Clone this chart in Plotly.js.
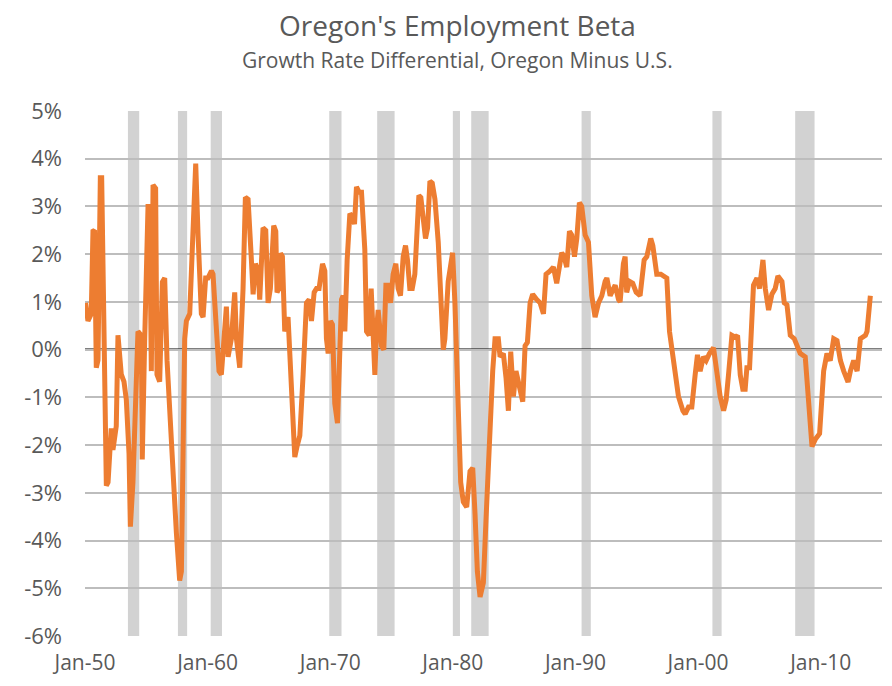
<!DOCTYPE html>
<html>
<head>
<meta charset="utf-8">
<script src="https://cdn.plot.ly/plotly-3.0.1.min.js"></script>
<style>html,body{margin:0;padding:0;background:#fff;}#chart{width:892px;height:686px;}</style>
</head>
<body>
<div id="chart"></div>
<script>
// Decimal years of each reading
const years = [
1950.05,1950.24,1950.51,1950.65,1950.78,1950.92,1951.06,1951.25,1951.36,1951.74,1951.88,
1952.14,1952.28,1952.42,1952.55,1952.69,1952.96,1953.18,1953.37,1953.59,1953.70,1953.91,
1954.32,1954.59,1954.67,1954.87,1955.14,1955.27,1955.41,1955.55,1955.76,1955.87,1956.09,
1956.31,1956.50,1956.69,1956.91,1957.19,1957.45,1957.72,1957.86,1958.13,1958.27,1958.54,
1958.81,1959.03,1959.22,1959.49,1959.63,1959.84,1960.03,1960.31,1960.44,1960.72,1960.93,
1961.12,1961.26,1961.53,1961.67,1961.94,1962.21,1962.35,1962.62,1962.89,1963.08,1963.30,
1963.57,1963.71,1963.90,1964.12,1964.25,1964.52,1964.74,1964.93,1965.12,1965.39,1965.56,
1965.66,1965.83,1965.94,1966.10,1966.29,1966.56,1967.11,1967.30,1967.52,1967.79,1968.06,
1968.28,1968.47,1968.69,1968.88,1969.09,1969.37,1969.56,1969.69,1969.83,1970.02,1970.18,
1970.37,1970.59,1970.78,1970.92,1971.05,1971.19,1971.38,1971.60,1971.81,1971.98,1972.14,
1972.36,1972.55,1972.82,1972.96,1973.18,1973.34,1973.50,1973.64,1973.77,1973.91,1974.18,
1974.37,1974.54,1974.73,1974.92,1975.13,1975.35,1975.54,1975.73,1975.95,1976.14,1976.30,
1976.49,1976.69,1976.90,1977.04,1977.23,1977.39,1977.58,1977.77,1977.94,1978.13,1978.32,
1978.54,1978.81,1979.08,1979.22,1979.35,1979.62,1979.98,1980.17,1980.45,1980.64,1980.85,
1981.13,1981.40,1981.62,1981.81,1982.00,1982.22,1982.49,1982.71,1982.98,1983.25,1983.44,
1983.71,1983.85,1984.12,1984.34,1984.53,1984.72,1984.94,1985.15,1985.43,1985.70,1985.89,
1986.08,1986.30,1986.51,1986.84,1987.11,1987.39,1987.60,1987.93,1988.20,1988.47,1988.69,
1988.88,1989.07,1989.29,1989.51,1989.70,1989.92,1990.11,1990.32,1990.51,1990.79,1991.06,
1991.33,1991.60,1991.88,1992.15,1992.42,1992.56,1992.83,1993.05,1993.24,1993.51,1993.64,
1993.91,1994.05,1994.18,1994.40,1994.67,1994.95,1995.27,1995.60,1995.82,1996.14,1996.31,
1996.63,1996.96,1997.45,1997.67,1997.99,1998.40,1998.76,1998.95,1999.22,1999.49,1999.76,
1999.95,2000.17,2000.44,2000.66,2000.93,2001.26,2001.53,2001.80,2002.08,2002.29,2002.48,
2002.76,2003.03,2003.22,2003.44,2003.65,2003.84,2003.98,2004.20,2004.39,2004.52,2004.80,
2005.01,2005.29,2005.48,2005.75,2006.02,2006.29,2006.51,2006.84,2007.03,2007.25,2007.52,
2007.84,2008.06,2008.33,2008.74,2009.01,2009.29,2009.56,2009.91,2010.24,2010.51,2010.78,
2011.06,2011.33,2011.61,2011.88,2012.23,2012.42,2012.69,2012.97,2013.24,2013.65,2013.78,
2014.05
];
// Growth rate differential, Oregon minus U.S. (percent)
const differential = [
0.98,0.60,0.75,2.48,2.50,-0.38,-0.22,3.60,3.60,-2.85,-2.78,
-1.65,-2.10,-1.72,-1.60,0.30,-0.52,-0.67,-1.05,-2.18,-3.71,-2.78,
0.38,0.30,-2.30,0.23,3.00,3.00,-0.45,3.45,3.38,-0.52,-0.67,
1.42,1.50,-0.22,-1.28,-2.78,-3.83,-4.84,-4.65,0.23,0.60,0.75,
2.85,3.90,2.40,0.75,0.68,1.50,1.50,1.65,1.58,0.23,-0.45,
-0.52,-0.08,0.90,-0.15,0.23,1.20,0.23,-0.38,1.28,3.19,3.15,
1.88,1.16,1.80,1.65,1.05,2.55,2.50,0.98,1.28,2.60,2.48,
1.20,1.28,2.02,1.95,0.38,0.68,-2.25,-2.02,-1.80,-0.52,0.98,
1.05,0.60,1.20,1.28,1.28,1.80,1.65,0.23,-0.08,0.60,0.53,
-1.13,-1.54,-0.38,1.05,1.13,0.38,1.88,2.85,2.78,2.63,3.41,
3.30,3.30,2.10,0.38,0.30,1.28,0.30,-0.53,0.38,0.83,0.08,
0.00,1.35,1.35,0.98,1.58,1.80,1.28,1.13,1.95,2.18,1.88,
1.28,1.28,1.58,2.48,3.23,3.19,2.63,2.33,2.55,3.53,3.49,
3.15,2.25,0.83,0.00,0.23,1.43,2.03,0.98,-1.28,-2.78,-3.19,
-3.30,-2.55,-2.48,-3.45,-4.65,-5.18,-4.88,-3.53,-1.73,-0.45,0.23,
0.23,-0.15,-0.08,-0.60,-1.28,-0.04,-0.98,-0.45,-0.83,-1.09,0.08,
0.15,0.98,1.16,1.05,0.98,0.75,1.58,1.65,1.73,1.39,1.73,
2.03,1.95,1.73,2.48,2.40,1.95,2.33,3.08,3.00,2.40,2.25,
1.13,0.68,0.98,1.13,1.43,1.50,1.13,1.28,1.35,1.05,1.00,
1.80,1.95,1.20,1.43,1.39,1.20,1.13,1.88,1.95,2.33,2.18,
1.58,1.58,1.50,0.38,-0.30,-0.98,-1.28,-1.35,-1.20,-1.20,-0.53,
-0.11,-0.45,-0.15,-0.23,-0.08,0.04,-0.53,-0.98,-1.28,-1.05,-0.53,
0.30,0.26,0.30,-0.53,-0.83,-0.83,-0.38,-0.38,0.98,1.35,1.50,
1.28,1.88,1.28,0.83,1.16,1.28,1.54,1.43,0.98,0.94,0.30,
0.23,0.08,-0.08,-0.15,-1.28,-2.03,-1.88,-1.76,-0.45,-0.08,-0.23,
0.23,0.19,-0.23,-0.45,-0.68,-0.45,-0.23,-0.45,0.23,0.30,0.38,
1.13
];
// NBER recessions (decimal years)
const recessionStart = [1953.50,1957.58,1960.25,1969.92,1973.83,1980.00,1981.50,1990.50,2001.17,2007.92];
const recessionEnd   = [1954.42,1958.33,1961.17,1970.92,1975.25,1980.58,1982.92,1991.25,2001.92,2009.50];

const xTickVals = [1950,1960,1970,1980,1990,2000,2010];
const xTickLabels = ['Jan-50','Jan-60','Jan-70','Jan-80','Jan-90','Jan-00','Jan-10'];
const yTickVals = [5,4,3,2,1,0,-1,-2,-3,-4,-5,-6];
const yTickLabels = ['5%','4%','3%','2%','1%','0%','-1%','-2%','-3%','-4%','-5%','-6%'];

const titleText = "Oregon's Employment Beta";
const subtitleText = "Growth Rate Differential, Oregon Minus U.S.";

const shapes = recessionStart.map((s, i) => ({
  type: 'rect', xref: 'x', yref: 'paper', x0: s, x1: recessionEnd[i], y0: 0, y1: 1,
  fillcolor: '#d2d2d2', line: {width: 0}, layer: 'below'
}));
shapes.push({type:'line', xref:'paper', yref:'y', x0:0, x1:1, y0:0, y1:0,
  line:{color:'#000000', width:2.5}, layer:'between'});

const trace = {
  x: years, y: differential, type: 'scatter', mode: 'lines',
  line: {color: '#ED7D31', width: 5}, hoverinfo: 'skip'
};

const font = {family: '"Open Sans", "Noto Sans", sans-serif', color: '#595959'};

const layout = {
  width: 892, height: 686,
  margin: {l: 85, r: 10, t: 111, b: 50},
  paper_bgcolor: '#ffffff', plot_bgcolor: '#ffffff',
  showlegend: false,
  font: Object.assign({size: 21}, font),
  xaxis: {
    range: [1950, 2015], tickvals: xTickVals, ticktext: xTickLabels,
    showgrid: false, zeroline: false, showline: false, ticks: '',
    tickfont: Object.assign({size: 21}, font), ticklabelstandoff: 12
  },
  yaxis: {
    range: [-6, 5], tickvals: yTickVals, ticktext: yTickLabels,
    showgrid: true, gridcolor: '#bdbdbd', gridwidth: 2, zeroline: false, showline: false,
    ticks: '', tickfont: Object.assign({size: 22}, font), ticklabelstandoff: 22
  },
  shapes: shapes,
  annotations: [
    {text: titleText, xref: 'paper', yref: 'paper', x: 0.468, y: 1.164, xanchor: 'center', yanchor: 'middle',
     showarrow: false, font: Object.assign({size: 28}, font)},
    {text: subtitleText, xref: 'paper', yref: 'paper', x: 0.468, y: 1.097, xanchor: 'center', yanchor: 'middle',
     showarrow: false, font: Object.assign({size: 21}, font)}
  ]
};

Plotly.newPlot('chart', [trace], layout, {displayModeBar: false, staticPlot: true});
</script>
</body>
</html>
